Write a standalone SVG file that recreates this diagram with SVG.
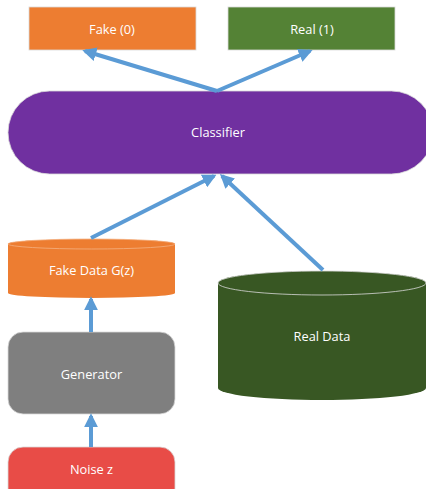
<svg xmlns="http://www.w3.org/2000/svg" width="426" height="489" viewBox="0 0 426 489">
<style>
.t{font-family:"Open Sans","Liberation Sans",sans-serif;font-size:12.8px;fill:#fff;text-anchor:middle;dominant-baseline:central}
.c{stroke:#5B9BD5;stroke-width:4;fill:none;marker-end:url(#ah)}
</style>
<defs>
<marker id="ah" viewBox="0 0 10 10" refX="8" refY="5" markerWidth="3.5" markerHeight="3.5" orient="auto" markerUnits="strokeWidth">
<path d="M0,0 L10,5 L0,10 z" fill="#5B9BD5"/>
</marker>
</defs>
<rect width="426" height="489" fill="#fff"/>
<g id="fake">
<rect x="29" y="7" width="167" height="43" fill="#ED7D31" stroke="#d9d9d9" stroke-width="0.8"/>
<text class="t" x="112" y="29">Fake (0)</text>
</g>
<g id="real">
<rect x="228" y="7" width="167" height="43" fill="#548235" stroke="#d9d9d9" stroke-width="0.8"/>
<text class="t" x="312" y="29">Real (1)</text>
</g>
<g id="classifier">
<rect x="8" y="91" width="425" height="83" rx="41.5" fill="#7030A0" stroke="#d9d9d9" stroke-width="0.8"/>
<text class="t" x="218" y="132">Classifier</text>
</g>
<g id="fakedata">
<path d="M8,244 V293 A83.5,5 0 0 0 175,293 V244 A83.5,5 0 0 0 8,244 Z" fill="#ED7D31"/>
<ellipse cx="91.5" cy="244" rx="83.5" ry="5" fill="#ED7D31" stroke="#f4b183" stroke-width="0.8"/>
<text class="t" x="91.5" y="270">Fake Data G(z)</text>
</g>
<g id="realdata">
<path d="M218,283 V388 A104,12 0 0 0 426,388 V283 A104,12 0 0 0 218,283 Z" fill="#385723"/>
<ellipse cx="322" cy="283" rx="104" ry="12" fill="#385723" stroke="#d9d9d9" stroke-width="0.8"/>
<text class="t" x="322" y="336">Real Data</text>
</g>
<g id="generator">
<rect x="8" y="332" width="167" height="82" rx="15" fill="#7F7F7F" stroke="#d9d9d9" stroke-width="0.8"/>
<text class="t" x="91.5" y="374">Generator</text>
</g>
<g id="noise">
<rect x="8" y="447" width="167" height="60" rx="15" fill="#E84C47" stroke="#d9d9d9" stroke-width="0.8"/>
<text class="t" x="91.5" y="469">Noise z</text>
</g>
<g id="connectors">
<line class="c" x1="217" y1="91" x2="85" y2="51"/>
<line class="c" x1="217" y1="91" x2="310" y2="51"/>
<line class="c" x1="91" y1="238" x2="214" y2="176"/>
<line class="c" x1="323" y1="270" x2="222" y2="176"/>
<line class="c" x1="91" y1="332" x2="91" y2="299"/>
<line class="c" x1="91" y1="447" x2="91" y2="416"/>
</g>
</svg>
